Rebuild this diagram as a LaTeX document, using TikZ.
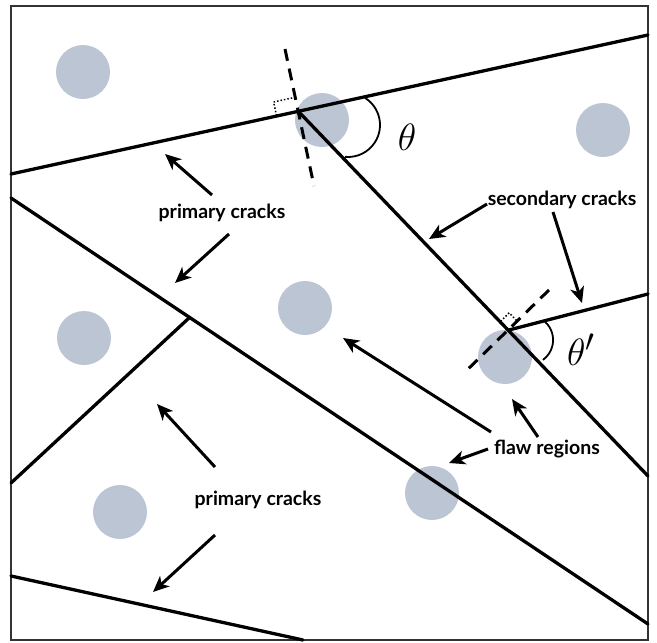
\documentclass[tikz,border=0pt]{standalone}
\usepackage{graphicx}
\usepackage{fontspec}
\setmainfont{Lato}
\usetikzlibrary{arrows.meta,calc}
\definecolor{flaw}{RGB}{188,197,212}
\begin{document}
\begin{tikzpicture}[x=1pt,y=-1pt,
  frame/.style={line width=2pt,draw=black!80},
  crack/.style={line width=3.3pt,line cap=round},
  flawreg/.style={circle,fill=flaw,draw=none,minimum size=54pt,inner sep=0pt},
  perp/.style={line width=3pt,dash pattern=on 12pt off 8pt},
  rightmark/.style={line width=1.5pt,dotted},
  anglearc/.style={line width=1.8pt},
  callout/.style={line width=3pt,-{Stealth[length=16pt,width=14pt,inset=4.5pt]}},
  lab/.style={font=\fontsize{19.5}{22}\selectfont\bfseries,inner sep=0pt},
  anglelab/.style={font=\fontsize{24.88}{26}\selectfont,inner sep=0pt}]
\useasboundingbox (0,0) rectangle (657,643);

% flaw regions
\node[flawreg] (f1) at (83,72) {};
\node[flawreg] (f2) at (322,120) {};
\node[flawreg] (f3) at (603,130) {};
\node[flawreg] (f4) at (84,338) {};
\node[flawreg] (f5) at (305,308) {};
\node[flawreg] (f6) at (505,357) {};
\node[flawreg] (f7) at (120,512) {};
\node[flawreg] (f8) at (432,493) {};

% frame
\draw[frame] (11,6) rectangle (648,640);

% crack end points and junctions
\coordinate (TL) at (11,174);
\coordinate (TR) at (648,35);
\coordinate (J1) at (298,111);
\coordinate (J2) at (509,330);
\coordinate (SE) at (648,476);
\coordinate (RE) at (648,294);
\coordinate (D1) at (11,198);
\coordinate (D2) at (648,624);
\coordinate (LJ) at (189,318);
\coordinate (L0) at (11,483);
\coordinate (B0) at (11,576);
\coordinate (B1) at (303,640);

% cracks
\draw[crack] (TL) -- (TR);
\draw[crack] (J1) -- (SE);
\draw[crack] (J2) -- (RE);
\draw[crack] (D1) -- (D2);
\draw[crack] (L0) -- (LJ);
\draw[crack] (B0) -- (B1);

% perpendicular dashed lines
\coordinate (p1a) at (285,49);
\coordinate (p1b) at (314,186);
\coordinate (p2a) at (549,290);
\coordinate (p2b) at (465,372);
\draw[perp] (p1a) -- (p1b);
\draw[perp] (p2a) -- (p2b);

% right-angle marks
\coordinate (q1) at ($(J1)!22pt!(TL)$);
\coordinate (q3) at ($(J1)!14pt!(p1a)$);
\draw[rightmark] (q1) -- ($(q1)+(q3)-(J1)$) -- (q3);
\coordinate (r1) at ($(J2)!12pt!(J1)$);
\coordinate (r3) at ($(J2)!12pt!(p2a)$);
\draw[rightmark] (r1) -- ($(r1)+(r3)-(J2)$) -- (r3);

% angle arcs
\draw[anglearc] (348,125) ++(-57.6:32) arc[start angle=-57.6,end angle=95.4,radius=32];
\draw[anglearc] (528.5,340) ++(-47.5:24.6) arc[start angle=-47.5,end angle=54,radius=24.6];
\node[anglelab] (th) at (407,137) {\scalebox{1.53}{$\theta$}};
\node[anglelab] (thp) at (581,350) {\scalebox{1.53}{$\theta'$}};

% labels
\node[lab] (pc1) at (222,213) {primary cracks};
\node[lab] (sc) at (562,200) {secondary cracks};
\node[lab] (fr) at (547,449) {flaw regions};
\node[lab] (pc2) at (258,500) {primary cracks};

% callout arrows
\coordinate (a1t) at (212,195); \coordinate (a1h) at (165,154);
\coordinate (a2t) at (229,234); \coordinate (a2h) at (175,283);
\coordinate (a3t) at (487,204); \coordinate (a3h) at (429,239);
\coordinate (a4t) at (553,212); \coordinate (a4h) at (582,303);
\coordinate (a5t) at (491,432); \coordinate (a5h) at (343,338);
\coordinate (a6t) at (538,437); \coordinate (a6h) at (512,399);
\coordinate (a7t) at (488,449); \coordinate (a7h) at (449,463);
\coordinate (a8t) at (215,467); \coordinate (a8h) at (157,404);
\coordinate (a9t) at (215,535); \coordinate (a9h) at (153,592);
\foreach \i in {1,...,9} {\draw[callout] (a\i t) -- (a\i h);}
\end{tikzpicture}
\end{document}
